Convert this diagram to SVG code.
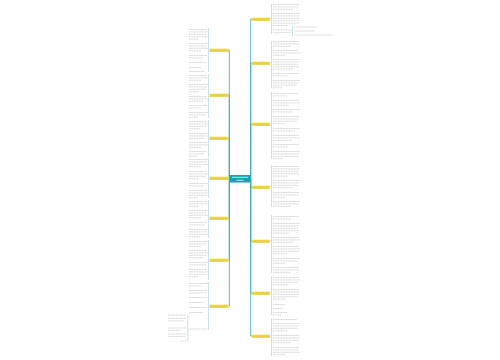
<svg xmlns="http://www.w3.org/2000/svg" width="500" height="360" viewBox="0 0 500 360">
<style>
.t{fill:none;stroke:#b4b4b4;stroke-width:0.55;stroke-dasharray:1.2 0.4}
.br{fill:none;stroke:#9fcfdc;stroke-width:0.6}
.cn{fill:none;stroke:#3aa8b8;stroke-width:0.8}
.yn{fill:#fbe44a;stroke:none}
.yl{stroke:#d8b81c;stroke-width:0.6}
.yt{stroke:#6b6030;stroke-width:0.5;opacity:0.5}
</style>
<rect width="500" height="360" fill="#ffffff"/>
<g id="connectors">
<path class="cn" d="M250,178.5 H250.7 V19 H252 M250.7,178.5 V63 H252 M250.7,178.5 V124 H252 M250.7,178.5 V187 H252 M250.7,178.5 V241 H252 M250.7,178.5 V293 H252 M250.7,178.5 V336 H252"/>
<path class="cn" d="M230,178.5 H229.3 V50 H228 M229.3,178.5 V95 H228 M229.3,178.5 V138 H228 M229.3,178.5 V178 H228 M229.3,178.5 V218 H228 M229.3,178.5 V260 H228 M229.3,178.5 V306 H228"/>
<path class="br" d="M270,19 H271.5 M271.5,4 V34 M270,63 H271.5 M271.5,41 V88 M270,124 H271.5 M271.5,92 V159 M270,187 H271.5 M271.5,165 V207 M270,241 H271.5 M271.5,215 V273 M270,293 H271.5 M271.5,276 V315 M270,336 H271.5 M271.5,318 V356"/>
<path class="br" d="M209,50 H208.5 M208.5,28 V72 M209,95 H208.5 M208.5,74 V118 M209,138 H208.5 M208.5,120 V157 M209,178 H208.5 M208.5,158 V198 M209,218 H208.5 M208.5,200 V238 M209,260 H208.5 M208.5,240 V280 M209,306 H208.5 M208.5,282 V330"/>
<path class="br" d="M291,30.5 H292.5 M292.5,26 V36 M189,329 H187.8 M187.8,314 V342"/>
</g>
<g id="center">
<rect x="230" y="175" width="20" height="7.5" fill="#16a2b4"/>
<path d="M232,177.3 H248 M236.5,180.3 H243.5" stroke="#e8f7fa" stroke-width="0.8"/>
</g>
<g id="r1"><rect class="yn" x="252" y="17.6" width="18" height="2.8"/><path class="yl" d="M252,20.4 H270"/><path class="yt" d="M253,19 H269"/>
<path class="t" d="M273,4.5h26M273,6.9h25M273,9.3h20M273,13.5h27M273,15.9h26M273,18.3h27M273,20.7h25M273,23.1h26M273,25.5h14M273,30h18M273,32.4h17"/>
<path class="t" d="M294.5,27h22M294.5,31h20M294.5,35h38"/></g>
<g id="r2"><rect class="yn" x="252" y="61.6" width="18" height="2.8"/><path class="yl" d="M252,64.4 H270"/><path class="yt" d="M253,63 H269"/>
<path class="t" d="M273,41.5h26M273,43.9h27M273,46.3h18M273,50.5h25M273,52.9h27M273,55.3h12M273,59.5h26M273,61.9h27M273,64.3h25M273,66.7h26M273,69.1h20M273,73.5h26M273,75.9h15M273,80.5h27M273,82.9h26M273,85.3h24M273,87.7h10"/></g>
<g id="r3"><rect class="yn" x="252" y="122.6" width="18" height="2.8"/><path class="yl" d="M252,125.4 H270"/><path class="yt" d="M253,124 H269"/>
<path class="t" d="M273,93.5h25M273,95.9h14M273,100.5h26M273,102.9h27M273,105.3h16M273,109.5h27M273,111.9h20M273,116.5h26M273,118.9h26M273,121.3h24M273,123.7h12M273,128.5h27M273,130.9h22M273,135.5h26M273,137.9h27M273,140.3h19M273,144.5h26M273,146.9h15M273,151.5h27M273,153.9h26M273,156.3h25M273,158.7h10"/></g>
<g id="r4"><rect class="yn" x="252" y="185.6" width="18" height="2.8"/><path class="yl" d="M252,188.4 H270"/><path class="yt" d="M253,187 H269"/>
<path class="t" d="M273,166.5h26M273,168.9h27M273,171.3h25M273,173.7h26M273,176.1h14M273,180.5h27M273,182.9h26M273,185.3h26M273,187.7h20M273,192.5h26M273,194.9h25M273,197.3h12M273,201.5h27M273,203.9h26M273,206.3h18"/></g>
<g id="r5"><rect class="yn" x="252" y="239.6" width="18" height="2.8"/><path class="yl" d="M252,242.4 H270"/><path class="yt" d="M253,241 H269"/>
<path class="t" d="M273,216.5h26M273,218.9h18M273,223.5h27M273,225.9h26M273,228.3h25M273,230.7h26M273,233.1h16M273,237.5h26M273,239.9h27M273,242.3h20M273,246.5h26M273,248.9h27M273,251.3h26M273,253.7h14M273,258.5h27M273,260.9h25M273,263.3h12M273,267.5h26M273,269.9h26M273,272.3h18"/></g>
<g id="r6"><rect class="yn" x="252" y="291.6" width="18" height="2.8"/><path class="yl" d="M252,294.4 H270"/><path class="yt" d="M253,293 H269"/>
<path class="t" d="M273,277.5h26M273,279.9h27M273,282.3h25M273,284.7h16M273,289.5h26M273,291.9h27M273,294.3h26M273,296.7h25M273,299.1h13M273,304.5h12M273,308.5h10M273,312.5h14M273,314.9h8"/></g>
<g id="r7"><rect class="yn" x="252" y="334.6" width="18" height="2.8"/><path class="yl" d="M252,337.4 H270"/><path class="yt" d="M253,336 H269"/>
<path class="t" d="M273,319.5h24M273,323.5h27M273,325.9h26M273,328.3h25M273,330.7h14M273,335.5h26M273,337.9h27M273,340.3h26M273,342.7h18M273,347.5h26M273,349.9h25M273,352.3h27M273,354.7h12"/></g>
<g id="l1"><rect class="yn" x="209.5" y="48.6" width="19" height="2.8"/><path class="yl" d="M209.5,51.4 H228.5"/><path class="yt" d="M210.5,50 H227.5"/>
<path class="t" d="M189,29.5h18M189,31.9h19M189,34.3h17M189,36.7h18M189,39.1h10M189,43.5h19M189,45.9h18M189,48.3h19M189,50.7h12M189,55.5h18M189,57.9h14M189,62.5h17M189,67.5h12M189,71.5h16"/></g>
<g id="l2"><rect class="yn" x="209.5" y="93.6" width="19" height="2.8"/><path class="yl" d="M209.5,96.4 H228.5"/><path class="yt" d="M210.5,95 H227.5"/>
<path class="t" d="M189,75.5h18M189,77.9h19M189,80.3h12M189,84.5h19M189,86.9h18M189,89.3h17M189,91.7h10M189,96.5h18M189,98.9h19M189,101.3h14M189,105.5h18M189,107.9h12M189,112.5h19M189,114.9h17M189,117.3h9"/></g>
<g id="l3"><rect class="yn" x="209.5" y="136.6" width="19" height="2.8"/><path class="yl" d="M209.5,139.4 H228.5"/><path class="yt" d="M210.5,138 H227.5"/>
<path class="t" d="M189,121.5h18M189,123.9h19M189,126.3h18M189,128.7h11M189,133.5h19M189,135.9h18M189,138.3h16M189,142.5h18M189,144.9h19M189,147.3h13M189,151.5h18M189,153.9h15M189,156.3h8"/></g>
<g id="l4"><rect class="yn" x="209.5" y="176.6" width="19" height="2.8"/><path class="yl" d="M209.5,179.4 H228.5"/><path class="yt" d="M210.5,178 H227.5"/>
<path class="t" d="M189,159.5h19M189,161.9h18M189,164.3h19M189,166.7h12M189,171.5h18M189,173.9h19M189,176.3h17M189,178.7h10M189,183.5h19M189,185.9h14M189,190.5h18M189,192.9h19M189,195.3h18M189,197.7h9"/></g>
<g id="l5"><rect class="yn" x="209.5" y="216.6" width="19" height="2.8"/><path class="yl" d="M209.5,219.4 H228.5"/><path class="yt" d="M210.5,218 H227.5"/>
<path class="t" d="M189,201.5h18M189,203.9h19M189,206.3h10M189,210.5h19M189,212.9h18M189,215.3h19M189,217.7h13M189,222.5h18M189,224.9h16M189,229.5h19M189,231.9h18M189,234.3h19M189,236.7h11"/></g>
<g id="l6"><rect class="yn" x="209.5" y="258.6" width="19" height="2.8"/><path class="yl" d="M209.5,261.4 H228.5"/><path class="yt" d="M210.5,260 H227.5"/>
<path class="t" d="M189,241.5h19M189,243.9h18M189,246.3h12M189,250.5h18M189,252.9h19M189,255.3h18M189,257.7h14M189,262.5h19M189,264.9h17M189,269.5h18M189,271.9h19M189,274.3h18M189,276.7h9"/></g>
<g id="l7"><rect class="yn" x="209.5" y="304.6" width="19" height="2.8"/><path class="yl" d="M209.5,307.4 H228.5"/><path class="yt" d="M210.5,306 H227.5"/>
<path class="t" d="M189,283.5h19M189,285.9h12M189,290.5h18M189,292.9h17M189,297.5h19M189,302.5h16M189,307.5h18M189,312.5h14M189.5,329h18"/>
<path class="t" d="M168,315h18M168,318.5h18M168,320.9h16M168,328h18M168,330.4h12M168,334h18M168,336.4h17M180,341h6"/></g>
</svg>
